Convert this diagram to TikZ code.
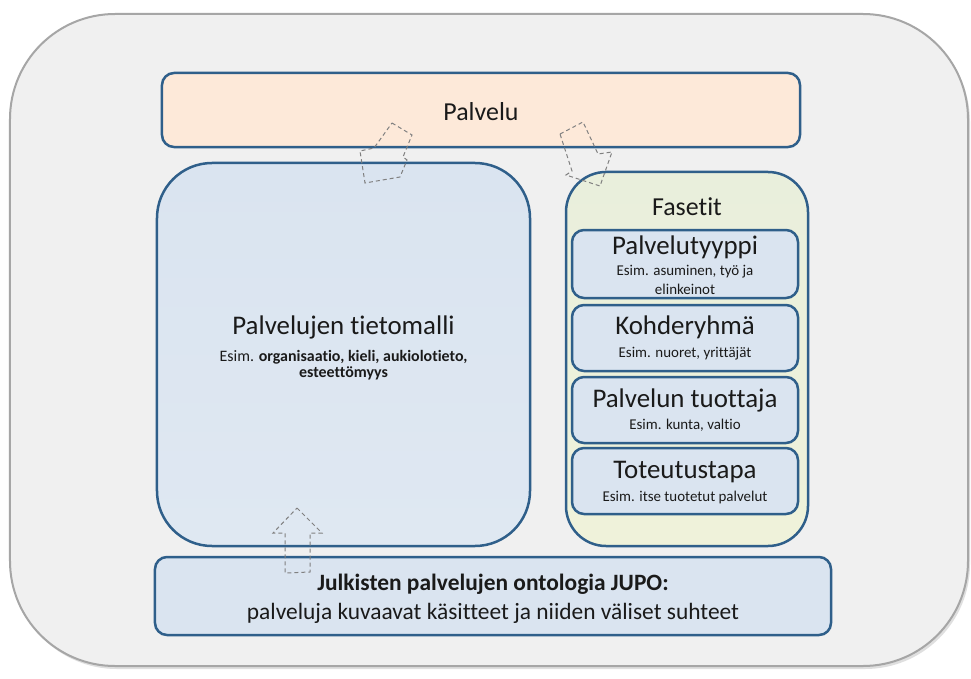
\documentclass[tikz,border=0pt]{standalone}
\usepackage{fontspec}
\setmainfont{Carlito}[Ligatures=NoCommon]
\usetikzlibrary{shadows}
\definecolor{edge}{HTML}{2F5F8A}
\definecolor{outerfill}{HTML}{F0F0F0}
\definecolor{outeredge}{HTML}{A6A6A6}
\definecolor{peach}{HTML}{FDE9D9}
\definecolor{lblue}{HTML}{DAE4F0}
\definecolor{lblueb}{HTML}{DFE8F2}
\definecolor{lgreen}{HTML}{E9EFDC}
\definecolor{lgreenb}{HTML}{EFF2DA}
\definecolor{arrowgray}{HTML}{808080}
\definecolor{txt}{HTML}{1A1A1A}
\begin{document}
\begin{tikzpicture}[x=1bp,y=-1bp,
  box/.style={draw=edge, line width=2.5bp, rounded corners=12bp, inner sep=0pt},
  lbl/.style={inner sep=0pt, text=txt, align=center},
  blockarrow/.style={draw=arrowgray, line width=1bp, dash pattern=on 4bp off 3bp, line join=miter}
]
\useasboundingbox (0,0) rectangle (971,679);
\fill[white] (0,0) rectangle (971,679);
% outer frame
\node[draw=outeredge, line width=2bp, fill=outerfill, rounded corners=105bp,
      minimum width=958bp, minimum height=652bp, inner sep=0pt,
      drop shadow={opacity=0.25, shadow xshift=2bp, shadow yshift=-3bp}] (outer) at (489,340) {};
% Palvelu
\node[box, fill=peach, minimum width=638bp, minimum height=74bp] (palvelu) at (481,110) {};
\node[lbl, font=\fontsize{26}{30}\selectfont] (palvelut) at (481,112) {Palvelu};
% tietomalli
\node[box, top color=lblue, bottom color=lblueb, rounded corners=55bp, minimum width=373bp, minimum height=383bp] (tieto) at (343.5,354.5) {};
\node[lbl, font=\fontsize{27}{31}\selectfont] (tietot) at (343.5,327) {Palvelujen tietomalli};
\node[lbl, font=\fontsize{16}{16.5}\selectfont] (tietos) at (343.5,365) {Esim. \textbf{organisaatio, kieli, aukiolotieto,}\\ \textbf{esteettömyys}};
% Fasetit
\node[box, top color=lgreen, bottom color=lgreenb, rounded corners=40bp, minimum width=242bp, minimum height=374bp] (fasetit) at (687,359) {};
\node[lbl, font=\fontsize{26}{30}\selectfont] (fasetitt) at (687,207) {Fasetit};
% facets
\node[box, fill=lblue, minimum width=226bp, minimum height=68bp] (f1) at (685,264) {};
\node[lbl, font=\fontsize{27}{31}\selectfont] (f1t) at (685,247) {Palvelutyyppi};
\node[lbl, font=\fontsize{15}{19}\selectfont] (f1s) at (685,280) {Esim. asuminen, työ ja\\ elinkeinot};
\node[box, fill=lblue, minimum width=226bp, minimum height=66bp] (f2) at (685,338) {};
\node[lbl, font=\fontsize{27}{31}\selectfont] (f2t) at (685,327) {Kohderyhmä};
\node[lbl, font=\fontsize{15}{19}\selectfont] (f2s) at (685,354) {Esim. nuoret, yrittäjät};
\node[box, fill=lblue, minimum width=226bp, minimum height=66bp] (f3) at (685,410) {};
\node[lbl, font=\fontsize{27}{31}\selectfont] (f3t) at (685,400) {Palvelun tuottaja};
\node[lbl, font=\fontsize{15}{19}\selectfont] (f3s) at (685,425) {Esim. kunta, valtio};
\node[box, fill=lblue, minimum width=226bp, minimum height=66bp] (f4) at (685,481) {};
\node[lbl, font=\fontsize{27}{31}\selectfont] (f4t) at (685,472) {Toteutustapa};
\node[lbl, font=\fontsize{15}{19}\selectfont] (f4s) at (685,498) {Esim. itse tuotetut palvelut};
% JUPO
\node[box, fill=lblue, minimum width=676bp, minimum height=78bp] (jupo) at (493,596) {};
\node[lbl, font=\bfseries\fontsize{23.5}{27}\selectfont] (jupob) at (493,584) {Julkisten palvelujen ontologia JUPO:};
\node[lbl, font=\fontsize{23.5}{27}\selectfont] (jupor) at (493,613) {palveluja kuvaavat käsitteet ja niiden väliset suhteet};
% dashed block arrows
\draw[blockarrow] (392,123) -- (412,135) -- (403,157) -- (407,160) -- (400,177) -- (365,183) -- (360,151) -- (374,148) -- cycle;
\draw[blockarrow] (560,134) -- (583,122) -- (598,154) -- (612,152) -- (600,186) -- (566,175) -- (572,171) -- cycle;
\draw[blockarrow] (297,508) -- (322,533) -- (310,533) -- (310,572) -- (285,573) -- (285,533) -- (273,533) -- cycle;
\end{tikzpicture}
\end{document}
